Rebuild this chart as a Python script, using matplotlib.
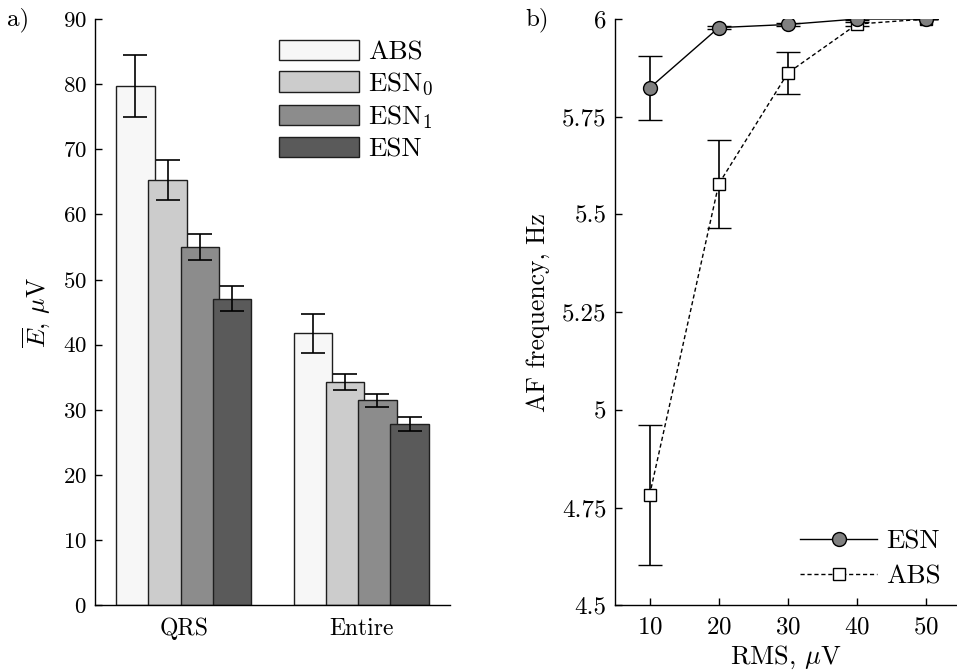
import numpy as np
import matplotlib
matplotlib.use("Agg")
import matplotlib.pyplot as plt
from matplotlib.lines import Line2D

plt.rcParams['font.family'] = ['cmr10', 'DejaVu Serif']
plt.rcParams['mathtext.fontset'] = 'cm'
plt.rcParams['axes.formatter.use_mathtext'] = True
plt.rcParams['axes.unicode_minus'] = False

# ---- panel a) data ----
groups = ['QRS', 'Entire']
methods = ['ABS', r'ESN$_0$', r'ESN$_1$', 'ESN']
means = {
    'ABS':       [79.7, 41.75],
    r'ESN$_0$':  [65.3, 34.3],
    r'ESN$_1$':  [54.95, 31.45],
    'ESN':       [47.05, 27.8],
}
errs = {
    'ABS':       [4.7, 3.0],
    r'ESN$_0$':  [3.1, 1.25],
    r'ESN$_1$':  [2.0, 1.0],
    'ESN':       [1.95, 1.05],
}
bar_colors = ['#f7f7f7', '#cccccc', '#8c8c8c', '#5a5a5a']

# ---- panel b) data ----
rms = [10, 20, 30, 40, 50]
esn_freq = [5.8235, 5.978, 5.986, 6.0, 6.0]
esn_err = [0.083, 0.004, 0.003, 0.002, 0.0]
abs_freq = [4.782, 5.578, 5.862, 5.987, 6.0]
abs_err = [0.179, 0.112, 0.053, 0.005, 0.0]

W, H = 957, 671
fig = plt.figure(figsize=(W / 100, H / 100), dpi=100)

def px_axes(x0, y0, x1, y1):
    return fig.add_axes([x0 / W, 1 - y1 / H, (x1 - x0) / W, (y1 - y0) / H])

edge = '#1e1e1e'

# ---------------- panel a ----------------
ax1 = px_axes(95, 19, 450, 605.3)
xg = np.arange(1, len(groups) + 1)
step, width = 0.182, 0.217
for i, (m, c) in enumerate(zip(methods, bar_colors)):
    xs = xg + (i - 1.5) * step
    ax1.bar(xs, means[m], width=width, color=c, edgecolor=edge,
            linewidth=1.0, label=m, zorder=2)
for i, m in enumerate(methods):
    xs = xg + (i - 1.5) * step
    ax1.errorbar(xs, means[m], yerr=errs[m], fmt='none', ecolor='black',
                 elinewidth=1.2, capsize=8.6, capthick=1.2, zorder=3)

ax1.set_xlim(0.5, 2.5)
ax1.set_ylim(0, 90)
ax1.set_yticks(np.arange(0, 91, 10))
ax1.set_xticks(xg)
ax1.set_xticklabels(groups)
ax1.tick_params(axis='x', length=0, pad=9, labelsize=17)
ax1.tick_params(axis='y', direction='in', length=5, width=1.0, pad=6, labelsize=16.5)
for s in ['top', 'right']:
    ax1.spines[s].set_visible(False)
for s in ['left', 'bottom']:
    ax1.spines[s].set_linewidth(1.0)
ax1.set_ylabel(r'$\overline{E}$, $\mu$V', fontsize=18.5)
ax1.yaxis.set_label_coords(-0.121, 0.5)

leg1 = ax1.legend(loc='upper left', bbox_to_anchor=(279 / W, 1 - 40 / H),
                  bbox_transform=fig.transFigure, frameon=False, fontsize=19.5,
                  handlelength=2.95, handleheight=0.78, handletextpad=0.33,
                  labelspacing=0.22, borderpad=0, borderaxespad=0)

fig.text(7 / W, 1 - 25 / H, 'a)', fontsize=18, va='baseline', ha='left')

# ---------------- panel b ----------------
ax2 = px_axes(615, 19, 957, 605.3)
ax2.errorbar(rms, abs_freq, yerr=abs_err, color='black', linestyle=(0, (3, 2)),
             linewidth=1.0, marker='s', markersize=8.4, markerfacecolor='white',
             markeredgecolor='black', markeredgewidth=1.0, elinewidth=1.2,
             capsize=8.3, capthick=1.2, ecolor='black', zorder=3)
ax2.errorbar(rms, esn_freq, yerr=esn_err, color='black', linestyle='-',
             linewidth=1.0, marker='o', markersize=10, markerfacecolor='#808080',
             markeredgecolor='black', markeredgewidth=1.0, elinewidth=1.2,
             capsize=8.3, capthick=1.2, ecolor='black', zorder=4)

ax2.set_xlim(5, 54.45)
ax2.set_ylim(4.5, 6.0)
ax2.set_xticks([10, 20, 30, 40, 50])
ax2.set_yticks([4.5, 4.75, 5.0, 5.25, 5.5, 5.75, 6.0])
ax2.set_yticklabels(['4.5', '4.75', '5', '5.25', '5.5', '5.75', '6'])
ax2.tick_params(axis='both', direction='in', length=5, width=1.0, labelsize=18)
ax2.tick_params(axis='x', pad=8)
ax2.tick_params(axis='y', pad=6)
for s in ['top', 'right']:
    ax2.spines[s].set_visible(False)
for s in ['left', 'bottom']:
    ax2.spines[s].set_linewidth(1.0)
ax2.set_ylabel('AF frequency, Hz', fontsize=18.5)
ax2.yaxis.set_label_coords(-0.19, 0.5)
ax2.set_xlabel(r'RMS, $\mu$V', fontsize=19)
ax2.xaxis.set_label_coords(0.5, -0.066)

legend_handles = [
    Line2D([], [], color='black', linestyle='-', linewidth=1.0, marker='o',
           markersize=10, markerfacecolor='#808080', markeredgecolor='black',
           markeredgewidth=1.0),
    Line2D([], [], color='black', linestyle=(0, (3, 2)), linewidth=1.0,
           marker='s', markersize=8.4, markerfacecolor='white',
           markeredgecolor='black', markeredgewidth=1.0),
]
leg2 = ax2.legend(legend_handles, ['ESN', 'ABS'],
                  loc='upper left', bbox_to_anchor=(800 / W, 1 - 530 / H),
                  bbox_transform=fig.transFigure, frameon=False, fontsize=19.5,
                  handlelength=2.85, handletextpad=0.33, labelspacing=0.38,
                  borderpad=0, borderaxespad=0, numpoints=1)

fig.text(525 / W, 1 - 25 / H, 'b)', fontsize=18, va='baseline', ha='left')

fig.savefig('out.png', dpi=100)
